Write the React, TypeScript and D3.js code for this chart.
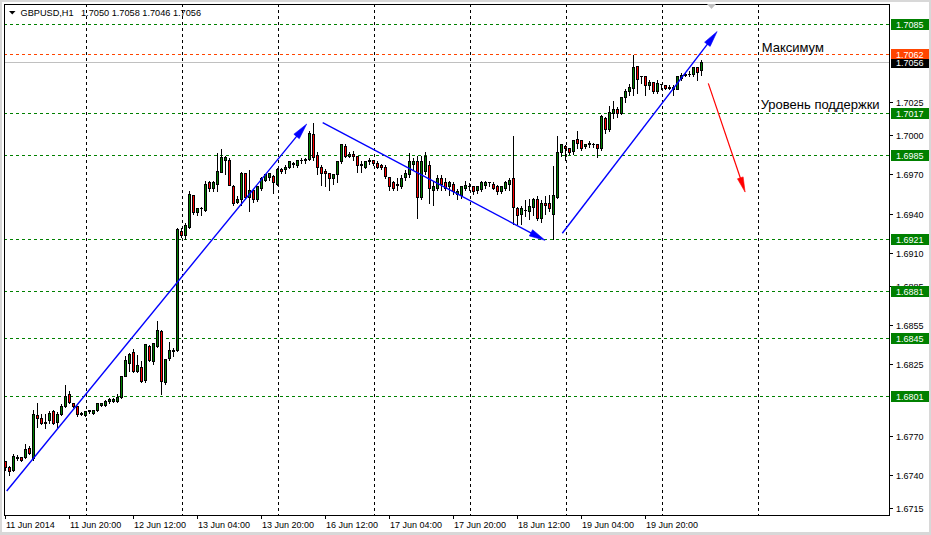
import React from "react";
import * as d3 from "d3";

// ---------- data ----------
const symbolName = "GBPUSD,H1";
const lastQuote = ["1.7050", "1.7058", "1.7046", "1.7056"];

const opens = [
  1.6751, 1.6746, 1.6744, 1.6753, 1.6754, 1.6754, 1.6761, 1.6753, 1.6786, 1.6784,
  1.6781, 1.6782, 1.6789, 1.6781, 1.6787, 1.6793, 1.6802, 1.6795, 1.6793, 1.6787,
  1.6786, 1.6789, 1.6788, 1.679, 1.6794, 1.6794, 1.6797, 1.6797, 1.6797, 1.68,
  1.6816, 1.6826, 1.6834, 1.682, 1.6823, 1.6813, 1.6839, 1.6827, 1.6839, 1.685,
  1.6811, 1.683, 1.6835, 1.6836, 1.6927, 1.6924, 1.693, 1.6954, 1.6941, 1.6944,
  1.6943, 1.6964, 1.696, 1.6963, 1.6972, 1.6981, 1.6981, 1.6961, 1.6949, 1.6951,
  1.6971, 1.6953, 1.6958, 1.6951, 1.696, 1.6966, 1.6968, 1.6969, 1.6963, 1.6974,
  1.6974, 1.6976, 1.6979, 1.6977, 1.6981, 1.6981, 1.6982, 1.7001, 1.6985, 1.6976,
  1.6973, 1.6971, 1.6967, 1.697, 1.698, 1.6992, 1.6984, 1.6986, 1.6984, 1.6977,
  1.6976, 1.698, 1.6981, 1.6979, 1.6977, 1.6976, 1.6968, 1.6964, 1.6962, 1.6961,
  1.6968, 1.697, 1.6978, 1.698, 1.6953, 1.6973, 1.6977, 1.6958, 1.696, 1.6967,
  1.6964, 1.6961, 1.6963, 1.6955, 1.6954, 1.696, 1.6961, 1.6961, 1.6958, 1.6959,
  1.6962, 1.6964, 1.6963, 1.6961, 1.6957, 1.696, 1.6963, 1.6967, 1.6944, 1.694,
  1.6943, 1.6942, 1.6945, 1.6951, 1.6937, 1.6948, 1.6948, 1.694, 1.6953, 1.6987,
  1.6992, 1.699, 1.6988, 1.6997, 1.6996, 1.6992, 1.6993, 1.6993, 1.6993, 1.699,
  1.7013, 1.7005, 1.7017, 1.702, 1.7017, 1.7029, 1.7034, 1.7036, 1.7053, 1.7045,
  1.7045, 1.7038, 1.7041, 1.7034, 1.7039, 1.7038, 1.7036, 1.7037, 1.7035, 1.7044,
  1.7046, 1.7047, 1.7047, 1.7052, 1.705,
];
const highs = [
  1.6752, 1.6748, 1.6757, 1.6756, 1.6755, 1.6765, 1.6763, 1.6791, 1.6796, 1.6788,
  1.6788, 1.679, 1.6791, 1.6789, 1.6795, 1.681, 1.6805, 1.6796, 1.6794, 1.6789,
  1.679, 1.6791, 1.6791, 1.6796, 1.6796, 1.6798, 1.68, 1.68, 1.6803, 1.6816,
  1.6832, 1.6834, 1.6837, 1.6833, 1.6828, 1.6841, 1.684, 1.6842, 1.6859, 1.6852,
  1.683, 1.6843, 1.6838, 1.693, 1.693, 1.6934, 1.6958, 1.6955, 1.6945, 1.6946,
  1.6966, 1.6966, 1.6966, 1.6987, 1.699, 1.6985, 1.6983, 1.6963, 1.6954, 1.6973,
  1.6972, 1.6974, 1.6959, 1.6962, 1.6969, 1.6971, 1.6972, 1.697, 1.6976, 1.6976,
  1.6978, 1.6981, 1.698, 1.6982, 1.6983, 1.6983, 1.7004, 1.701, 1.6988, 1.6978,
  1.6975, 1.6972, 1.6971, 1.6981, 1.6994, 1.6994, 1.6988, 1.6989, 1.6985, 1.6981,
  1.6981, 1.6983, 1.6982, 1.6981, 1.6979, 1.6978, 1.6969, 1.6966, 1.6968, 1.697,
  1.6974, 1.6987, 1.6983, 1.6985, 1.6985, 1.6988, 1.6981, 1.6966, 1.697, 1.697,
  1.6968, 1.6966, 1.6965, 1.696, 1.6962, 1.6966, 1.6964, 1.6962, 1.6962, 1.6966,
  1.6966, 1.6965, 1.6965, 1.6963, 1.6962, 1.6966, 1.6968, 1.7, 1.6946, 1.6947,
  1.6951, 1.6952, 1.6953, 1.6954, 1.6951, 1.6954, 1.6955, 1.6977, 1.7, 1.6994,
  1.6993, 1.6991, 1.6997, 1.7004, 1.6997, 1.6993, 1.6996, 1.6995, 1.6993, 1.7016,
  1.7015, 1.7023, 1.7027, 1.7022, 1.703, 1.7036, 1.704, 1.7062, 1.7054, 1.7046,
  1.7046, 1.7043, 1.7041, 1.7043, 1.704, 1.7039, 1.7039, 1.7039, 1.7046, 1.7048,
  1.7048, 1.705, 1.7053, 1.7053, 1.7058,
];
const lows = [
  1.6744, 1.674, 1.6743, 1.6752, 1.6751, 1.6753, 1.6756, 1.6752, 1.6777, 1.6779,
  1.6776, 1.678, 1.6779, 1.6777, 1.6786, 1.6792, 1.6795, 1.6792, 1.6785, 1.6786,
  1.6785, 1.6788, 1.6787, 1.6789, 1.6793, 1.6793, 1.6795, 1.6796, 1.6796, 1.6799,
  1.6816, 1.682, 1.6819, 1.6819, 1.6811, 1.6811, 1.6827, 1.6825, 1.6838, 1.6802,
  1.681, 1.6828, 1.6831, 1.6835, 1.6922, 1.6921, 1.6929, 1.694, 1.6939, 1.6939,
  1.6942, 1.6957, 1.6957, 1.6957, 1.6972, 1.697, 1.6962, 1.6947, 1.6948, 1.6947,
  1.6952, 1.6942, 1.6949, 1.695, 1.6958, 1.6965, 1.6966, 1.6956, 1.6962, 1.6971,
  1.6971, 1.6975, 1.6976, 1.6976, 1.6979, 1.6979, 1.6981, 1.6981, 1.697, 1.6962,
  1.6961, 1.6958, 1.6963, 1.6964, 1.6979, 1.6983, 1.6983, 1.6981, 1.6972, 1.6972,
  1.6975, 1.6978, 1.6977, 1.6975, 1.6974, 1.6967, 1.6958, 1.6958, 1.6958, 1.696,
  1.6966, 1.6968, 1.6974, 1.6937, 1.6951, 1.697, 1.6948, 1.6947, 1.6958, 1.6958,
  1.6958, 1.6954, 1.6955, 1.6951, 1.6952, 1.6958, 1.6958, 1.6955, 1.6956, 1.6957,
  1.696, 1.6961, 1.6959, 1.6955, 1.6956, 1.6958, 1.6958, 1.6932, 1.6932, 1.6932,
  1.6938, 1.6936, 1.6939, 1.6935, 1.6934, 1.694, 1.6942, 1.6921, 1.6952, 1.6984,
  1.6981, 1.6986, 1.6986, 1.699, 1.6989, 1.699, 1.6991, 1.6991, 1.6983, 1.6989,
  1.7002, 1.7003, 1.7013, 1.7014, 1.7016, 1.7025, 1.7031, 1.7031, 1.7032, 1.704,
  1.7031, 1.7035, 1.7032, 1.7032, 1.7035, 1.7035, 1.7035, 1.7031, 1.7035, 1.7042,
  1.7045, 1.7045, 1.7045, 1.7042, 1.7046,
];
const closes = [
  1.6746, 1.6743, 1.6755, 1.6754, 1.6752, 1.676, 1.6757, 1.6787, 1.6784, 1.678,
  1.678, 1.6788, 1.678, 1.6787, 1.6793, 1.6801, 1.6796, 1.6793, 1.6787, 1.6788,
  1.6789, 1.679, 1.679, 1.6795, 1.6795, 1.6797, 1.6798, 1.6798, 1.68, 1.6816,
  1.6828, 1.6833, 1.682, 1.6824, 1.6812, 1.684, 1.6828, 1.6841, 1.6851, 1.6812,
  1.6829, 1.6836, 1.6836, 1.6928, 1.6924, 1.6931, 1.6955, 1.6941, 1.6944, 1.6944,
  1.6963, 1.696, 1.6964, 1.6973, 1.6983, 1.6983, 1.6962, 1.6948, 1.6951, 1.6971,
  1.6953, 1.6958, 1.6951, 1.6961, 1.6967, 1.697, 1.6971, 1.6964, 1.6974, 1.6973,
  1.6976, 1.698, 1.6978, 1.6981, 1.6981, 1.6982, 1.7002, 1.6983, 1.6976, 1.6971,
  1.6971, 1.6967, 1.697, 1.698, 1.6993, 1.6984, 1.6986, 1.6984, 1.6977, 1.6978,
  1.698, 1.6981, 1.6979, 1.6976, 1.6976, 1.6969, 1.6961, 1.696, 1.6963, 1.6967,
  1.6971, 1.698, 1.698, 1.6953, 1.698, 1.6984, 1.696, 1.6961, 1.6967, 1.6963,
  1.696, 1.6964, 1.6957, 1.6957, 1.6961, 1.6962, 1.6961, 1.6957, 1.6961, 1.6964,
  1.6964, 1.6964, 1.696, 1.6957, 1.6961, 1.6964, 1.6966, 1.6945, 1.6939, 1.6944,
  1.6943, 1.6946, 1.6951, 1.6937, 1.6948, 1.6947, 1.6944, 1.6954, 1.6987, 1.6993,
  1.699, 1.6987, 1.6996, 1.6994, 1.699, 1.6993, 1.6994, 1.6993, 1.699, 1.7015,
  1.7005, 1.7018, 1.702, 1.7017, 1.7029, 1.7034, 1.7037, 1.7052, 1.7043, 1.7045,
  1.7038, 1.7041, 1.7034, 1.704, 1.7039, 1.7036, 1.7037, 1.7035, 1.7045, 1.7046,
  1.7047, 1.7047, 1.7052, 1.7048, 1.7056,
];

const priceTicks = [1.7025, 1.7, 1.697, 1.694, 1.691, 1.6885, 1.6855, 1.6825, 1.677, 1.674, 1.6715];
const timeLabels = [
  "11 Jun 2014", "11 Jun 20:00", "12 Jun 12:00", "13 Jun 04:00", "13 Jun 20:00",
  "16 Jun 12:00", "17 Jun 04:00", "17 Jun 20:00", "18 Jun 12:00", "19 Jun 04:00", "19 Jun 20:00",
];
const timeLabelBars = [0, 16, 32, 48, 64, 80, 96, 112, 128, 144, 160];
const dayStartBars = [20, 44, 68, 92, 116, 140, 164, 188];

const greenLevels = [1.7085, 1.7017, 1.6985, 1.6921, 1.6881, 1.6845, 1.6801];
const maxLevel = 1.7062;
const bidLevel = 1.7056;

// trend arrows: [bar, price] -> [bar, price]
const arrowFromBars = [0.3, 79.3, 139.2, 175.7];
const arrowFromPrices = [1.67284, 1.70099, 1.69254, 1.704];
const arrowToBars = [75.3, 134.9, 177.9, 184.9];
const arrowToPrices = [1.70089, 1.692, 1.70796, 1.69569];
const arrowColors = ["#0000FF", "#0000FF", "#0000FF", "#FF0000"];

const noteTexts = ["Максимум", "Уровень поддержки"];
const noteBars = [189.05, 188.8];
const notePrices = [1.70638, 1.70202];

// ---------- layout ----------
const W = 931;
const H = 535;
const L = 4;
const T = 4;
const R = 889;
const B = 515;
const FONT = "'Liberation Sans', Arial, sans-serif";

export default function App() {
  const x = d3.scaleLinear().domain([0, 1]).range([5.5, 9.5]);
  const y = d3.scaleLinear().domain([1.6715, 1.7085]).range([508.5, 24.5]);
  const py = (v: number) => Math.floor(y(v)) + 0.5;

  const candles = opens.map((o, i) => ({ i, o, h: highs[i], l: lows[i], c: closes[i] }));

  const arrowHead = (x1: number, y1: number, x2: number, y2: number, len: number, hw: number) => {
    const dx = x2 - x1;
    const dy = y2 - y1;
    const d = Math.hypot(dx, dy);
    const ux = dx / d;
    const uy = dy / d;
    const bx = x2 - ux * len;
    const by = y2 - uy * len;
    const path = d3.path();
    path.moveTo(x2, y2);
    path.lineTo(bx - uy * hw, by + ux * hw);
    path.lineTo(bx + uy * hw, by - ux * hw);
    path.closePath();
    return path.toString();
  };

  return (
    <div style={{ position: "fixed", left: 0, top: 0 }}>
      <svg width={W} height={H} style={{ display: "block" }} fontFamily={FONT}>
        <defs>
          <clipPath id="plot">
            <rect x={L} y={T} width={R - L} height={B - T} />
          </clipPath>
        </defs>
        <rect x={0} y={0} width={W} height={H} fill="#d8d8d8" />
        <rect x={2} y={2} width={W - 4} height={H - 5} fill="#ffffff" />

        <g clipPath="url(#plot)">
          {/* day grid */}
          {dayStartBars.map((b) => (
            <line
              key={"g" + b}
              x1={Math.round(x(b)) + 0.5}
              x2={Math.round(x(b)) + 0.5}
              y1={T}
              y2={B}
              stroke="#000"
              strokeDasharray="3,3"
              shapeRendering="crispEdges"
            />
          ))}
          {/* level lines */}
          {greenLevels.map((v) => (
            <line
              key={"lv" + v}
              x1={L}
              x2={R}
              y1={py(v)}
              y2={py(v)}
              stroke="#008000"
              strokeDasharray="3,3"
              shapeRendering="crispEdges"
            />
          ))}
          <line x1={L} x2={R} y1={py(maxLevel)} y2={py(maxLevel)} stroke="#FF4500" strokeDasharray="3,3" shapeRendering="crispEdges" />
          <line x1={L} x2={R} y1={py(bidLevel)} y2={py(bidLevel)} stroke="#c0c0c0" shapeRendering="crispEdges" />

          {/* candles */}
          {candles.map((d) => {
            const cx = Math.floor(x(d.i)) + 0.5;
            const top = py(Math.max(d.o, d.c));
            const bot = py(Math.min(d.o, d.c));
            const up = d.c > d.o;
            return (
              <g key={"c" + d.i} shapeRendering="crispEdges">
                <line x1={cx} x2={cx} y1={py(d.h)} y2={py(d.l) + 0.5} stroke="#000" />
                {bot - top < 1 ? (
                  <line x1={cx - 1.5} x2={cx + 1.5} y1={top} y2={top} stroke="#000" />
                ) : (
                  <rect
                    x={cx - 1}
                    y={top}
                    width={2}
                    height={bot - top}
                    fill={up ? "#008000" : "#ff0000"}
                    stroke="#000"
                  />
                )}
              </g>
            );
          })}

          {/* trend arrows */}
          {arrowFromBars.map((fb, k) => {
            const x1 = x(fb);
            const y1 = y(arrowFromPrices[k]);
            const x2 = x(arrowToBars[k]);
            const y2 = y(arrowToPrices[k]);
            const red = arrowColors[k] === "#FF0000";
            const len = red ? 15 : 16;
            const hw = red ? 3 : 3.5;
            const d = Math.hypot(x2 - x1, y2 - y1);
            const ex = x2 - ((x2 - x1) / d) * (len - 2);
            const ey = y2 - ((y2 - y1) / d) * (len - 2);
            return (
              <g key={"a" + k}>
                <line x1={x1} y1={y1} x2={ex} y2={ey} stroke={arrowColors[k]} strokeWidth={red ? 1.2 : 1.4} />
                <path d={arrowHead(x1, y1, x2, y2, len, hw)} fill={arrowColors[k]} stroke={arrowColors[k]} strokeWidth={0.6} />
              </g>
            );
          })}

          {/* notes */}
          {noteTexts.map((t, k) => (
            <text key={"n" + k} x={x(noteBars[k])} y={y(notePrices[k])} fontSize={13} fill="#000">
              {t}
            </text>
          ))}
        </g>

        {/* frame */}
        <rect x={L + 0.5} y={T + 0.5} width={R - L} height={B - T} fill="none" stroke="#000" shapeRendering="crispEdges" />

        {/* shift marker */}
        <path d="M707,4 L716,4 L711.5,9 Z" fill="#c0c0c0" />

        {/* title */}
        <path d="M9,11 L15.5,11 L12.25,14.5 Z" fill="#000" />
        <text x={20.5} y={16} fontSize={9.2} fill="#000">{symbolName}</text>
        <text x={81} y={16} fontSize={9.2} fill="#000">{lastQuote.join(" ")}</text>

        {/* price axis */}
        {priceTicks.map((v) => (
          <g key={"pt" + v}>
            <line x1={R} x2={R + 4} y1={py(v)} y2={py(v)} stroke="#000" shapeRendering="crispEdges" />
            <text x={896} y={py(v) + 3.3} fontSize={9} fill="#000">
              {d3.format(".4f")(v)}
            </text>
          </g>
        ))}
        {greenLevels.map((v) => (
          <g key={"gb" + v}>
            <rect x={891} y={Math.floor(y(v)) - 5} width={38} height={11} fill="#008000" />
            <text x={896} y={py(v) + 3.3} fontSize={9} fill="#fff">
              {d3.format(".4f")(v)}
            </text>
          </g>
        ))}
        <rect x={891} y={Math.floor(y(maxLevel)) - 5} width={38} height={10} fill="#FF4500" />
        <text x={896} y={py(maxLevel) + 3.3} fontSize={9} fill="#fff">
          {d3.format(".4f")(maxLevel)}
        </text>
        <rect x={891} y={Math.floor(y(bidLevel)) - 3} width={38} height={9} fill="#000" />
        <text x={896} y={py(bidLevel) + 3.3} fontSize={9} fill="#fff">
          {d3.format(".4f")(bidLevel)}
        </text>

        {/* time axis */}
        {timeLabelBars.map((b, k) => (
          <g key={"tl" + b}>
            <line
              x1={Math.floor(x(b)) + 0.5}
              x2={Math.floor(x(b)) + 0.5}
              y1={B}
              y2={B + 4}
              stroke="#000"
              shapeRendering="crispEdges"
            />
            <text x={Math.floor(x(b)) + 1} y={527.5} fontSize={9} fill="#000">
              {timeLabels[k]}
            </text>
          </g>
        ))}
      </svg>
    </div>
  );
}
